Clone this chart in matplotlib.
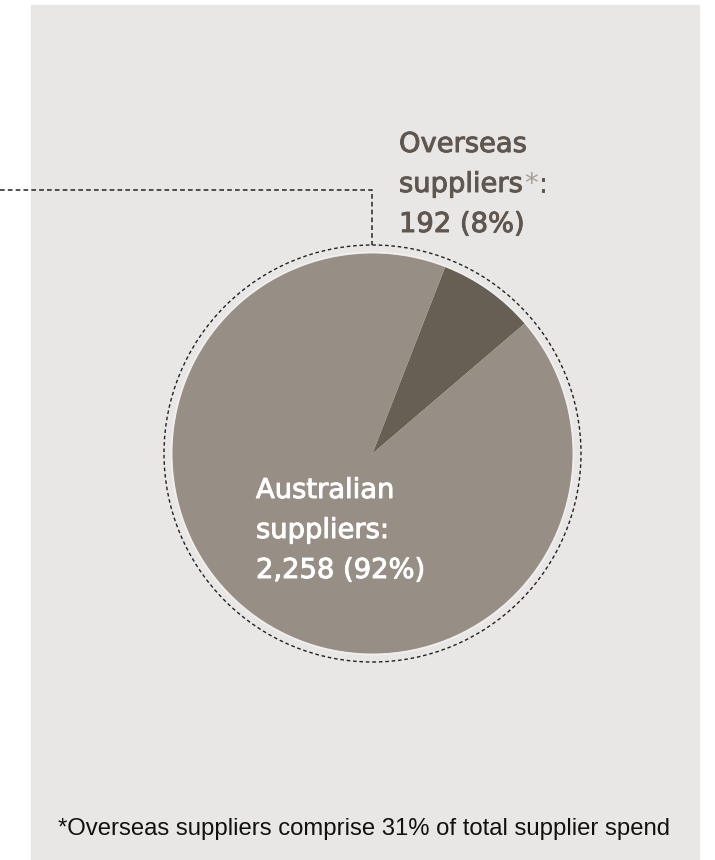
import numpy as np
import matplotlib
matplotlib.use("Agg")
import matplotlib.pyplot as plt
import matplotlib.patheffects as pe
from matplotlib.patches import Rectangle, Circle

# data
labels = ["Overseas suppliers", "Australian suppliers"]
counts = [192, 2258]
colors = ["#675e54", "#978e85"]
footnote = "*Overseas suppliers comprise 31% of total supplier spend"

total = sum(counts)
pcts = [round(100 * c / total) for c in counts]

W, H = 715, 860
fig = plt.figure(figsize=(W / 100, H / 100), dpi=100)
ax = fig.add_axes([0, 0, 1, 1])

# grey panel
ax.add_patch(Rectangle((31, 0), 668, 855, color="#e9e7e5", zorder=0))

cx, cy, r = 372.5, 406.5, 200
ax.pie(counts, colors=colors, startangle=40.5, counterclock=True,
       center=(cx, cy), radius=r, frame=True,
       wedgeprops=dict(linewidth=0, zorder=2))
ax.set_xlim(0, W)
ax.set_ylim(0, H)
ax.set_aspect("equal")
ax.axis("off")

# light rim + dashed outer ring
ax.add_patch(Circle((cx, cy), r + 1.2, fill=False, ec="#f2f0ee", lw=1.0, zorder=3))
ax.add_patch(Circle((cx, cy), r + 8.5, fill=False, ec="#222222", lw=1.0,
                    linestyle=(0, (2.6, 2.0)), zorder=3))

# leader line
ax.plot([0, 372, 372], [670, 670, cy + r + 8.5], color="#333333", lw=1.2,
        linestyle=(0, (2.8, 1.9)), zorder=3)

fs = 19.7
dark = "#5f5650"
thick_dark = [pe.withStroke(linewidth=0.7, foreground=dark)]
thick_white = [pe.withStroke(linewidth=0.7, foreground="white")]
fig.canvas.draw()
rend = fig.canvas.get_renderer()

ax.text(399, 708, "Overseas", fontsize=fs, color=dark, va="baseline", path_effects=thick_dark)
t = ax.text(399, 668, "suppliers", fontsize=fs, color=dark, va="baseline", path_effects=thick_dark)
bb = t.get_window_extent(renderer=rend)
x1 = ax.transData.inverted().transform((bb.x1, 0))[0]
t2 = ax.text(x1 + 1, 668, "*", fontsize=fs, color="#a69e96", va="baseline")
bb2 = t2.get_window_extent(renderer=rend)
x2 = ax.transData.inverted().transform((bb2.x1, 0))[0]
ax.text(x2, 668, ":", fontsize=fs, color=dark, va="baseline", path_effects=thick_dark)
ax.text(399, 628, f"{counts[0]:,} ({pcts[0]}%)", fontsize=fs, color=dark,
        va="baseline", path_effects=thick_dark)

ax.text(256, 362, "Australian", fontsize=fs, color="white", va="baseline", zorder=4,
        path_effects=thick_white)
ax.text(256, 322, "suppliers:", fontsize=fs, color="white", va="baseline", zorder=4,
        path_effects=thick_white)
ax.text(256, 282, f"{counts[1]:,} ({pcts[1]}%)", fontsize=fs, color="white",
        va="baseline", zorder=4, path_effects=thick_white)

ax.text(364.5, 25, footnote, fontsize=17.2, family="Liberation Sans", color="#111111",
        ha="center", va="baseline")

fig.savefig("out.png", dpi=100, facecolor="white")
